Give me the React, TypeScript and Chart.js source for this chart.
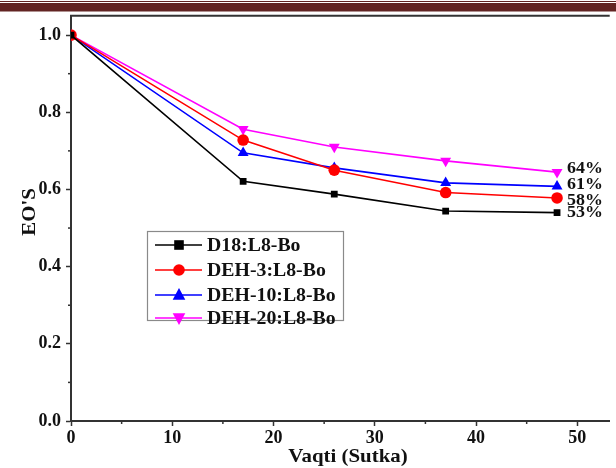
import React, { useEffect, useRef } from "react";
import { Chart, registerables } from "chart.js";

Chart.register(...registerables);

const days = [0, 17, 26, 37, 48];
const seriesNames = ["D18:L8-Bo", "DEH-3:L8-Bo", "DEH-10:L8-Bo", "DEH-20:L8-Bo"];
const d18 = [1.0, 0.621, 0.588, 0.544, 0.54];
const deh3 = [1.0, 0.728, 0.65, 0.592, 0.578];
const deh10 = [1.0, 0.695, 0.656, 0.617, 0.608];
const deh20 = [1.0, 0.756, 0.71, 0.674, 0.645];
const endLabels = ["53%", "58%", "61%", "64%"];
const xTitle = "Vaqti (Sutka)";
const yTitle = "EO'S";

const FONT = "'Liberation Serif', 'Times New Roman', serif";

function stretchText(ctx: CanvasRenderingContext2D, text: string, x: number, y: number, sx: number) {
  ctx.save();
  ctx.translate(x, y);
  ctx.scale(sx, 1);
  ctx.fillText(text, 0, 0);
  ctx.restore();
}

export default function App() {
  const ref = useRef<HTMLCanvasElement | null>(null);

  useEffect(() => {
    const canvas = ref.current;
    if (!canvas) return;

    const colors = ["#000000", "#ff0000", "#0000ff", "#ff00ff"];
    const styles = ["rect", "circle", "triangle", "triangle"];
    const rotations = [0, 0, 0, 180];
    const radii = [4.8, 5.8, 6.3, 6.3];
    const values = [d18, deh3, deh10, deh20];

    function drawMarker(ctx: CanvasRenderingContext2D, style: string, x: number, y: number, r: number, rot: number, color: string) {
      ctx.save();
      ctx.fillStyle = color;
      ctx.translate(x, y);
      ctx.rotate((rot * Math.PI) / 180);
      ctx.beginPath();
      if (style === "rect") {
        ctx.rect(-r, -r, 2 * r, 2 * r);
      } else if (style === "circle") {
        ctx.arc(0, 0, r, 0, Math.PI * 2);
      } else {
        ctx.moveTo(0, -r * 1.1);
        ctx.lineTo(r, r * 0.75);
        ctx.lineTo(-r, r * 0.75);
        ctx.closePath();
      }
      ctx.fill();
      ctx.restore();
    }

    const decor = {
      id: "decor",
      beforeDraw(chart: any) {
        const ctx = chart.ctx as CanvasRenderingContext2D;
        ctx.save();
        ctx.fillStyle = "#622423";
        ctx.fillRect(0, 1, chart.width, 1);
        ctx.fillRect(0, 3, chart.width, 8.5);
        ctx.restore();
      },
      afterDraw(chart: any) {
        const ctx = chart.ctx as CanvasRenderingContext2D;
        const area = chart.chartArea;
        const xs = chart.scales.x;
        const ys = chart.scales.y;
        ctx.save();
        // top frame
        ctx.strokeStyle = "#333333";
        ctx.lineWidth = 2;
        ctx.beginPath();
        ctx.moveTo(area.left - 1, area.top);
        ctx.lineTo(area.right, area.top);
        ctx.stroke();
        // minor ticks
        ctx.lineWidth = 1.5;
        for (let v = 5; v < xs.max; v += 10) {
          const px = xs.getPixelForValue(v);
          ctx.beginPath();
          ctx.moveTo(px, area.bottom);
          ctx.lineTo(px, area.bottom + 3);
          ctx.stroke();
        }
        for (let v = 0.1; v < 1.0; v += 0.2) {
          const py = ys.getPixelForValue(v);
          ctx.beginPath();
          ctx.moveTo(area.left, py);
          ctx.lineTo(area.left - 3, py);
          ctx.stroke();
        }
        // axis titles
        ctx.fillStyle = "#111111";
        ctx.font = `bold 19px ${FONT}`;
        ctx.textAlign = "center";
        ctx.textBaseline = "middle";
        stretchText(ctx, xTitle, 348, 457, 1.1);
        ctx.save();
        ctx.translate(30, 212);
        ctx.rotate(-Math.PI / 2);
        ctx.scale(1.1, 1);
        ctx.fillText(yTitle, 0, 0);
        ctx.restore();

        // end labels
        ctx.font = `bold 16px ${FONT}`;
        ctx.textAlign = "left";
        const offsets = [0, 3, -2, -3];
        for (let i = 0; i < 4; i++) {
          const arr = values[i];
          const py = ys.getPixelForValue(arr[arr.length - 1]) + offsets[i];
          stretchText(ctx, endLabels[i], xs.getPixelForValue(days[days.length - 1]) + 10, py, 1.12);
        }

        // legend
        const bx = 147.5, by = 231.5, bw = 196, bh = 89;
        ctx.fillStyle = "#ffffff";
        ctx.fillRect(bx, by, bw, bh);
        ctx.strokeStyle = "#8a8a8a";
        ctx.lineWidth = 1.2;
        ctx.strokeRect(bx, by, bw, bh);
        const rowY = [245, 270, 295, 318];
        ctx.font = `bold 18px ${FONT}`;
        for (let i = 0; i < 4; i++) {
          const y = rowY[i];
          ctx.strokeStyle = colors[i];
          ctx.lineWidth = 1.6;
          ctx.beginPath();
          ctx.moveTo(155, y);
          ctx.lineTo(202, y);
          ctx.stroke();
          drawMarker(ctx, styles[i], 179, y, radii[i], rotations[i], colors[i]);
          ctx.fillStyle = "#111111";
          ctx.textBaseline = "middle";
          stretchText(ctx, seriesNames[i], 207, y + 1, 1.1);
        }
        ctx.restore();
      },
    };

    const chart = new Chart(canvas, {
      type: "line",
      data: {
        datasets: values.map((arr, i) => ({
          label: seriesNames[i],
          data: days.map((d, j) => ({ x: d, y: arr[j] })),
          borderColor: colors[i],
          backgroundColor: colors[i],
          borderWidth: 1.6,
          pointStyle: styles[i] as any,
          pointRotation: rotations[i],
          pointRadius: radii[i],
          pointBorderWidth: 0,
          tension: 0,
        })),
      },
      options: {
        animation: false,
        responsive: false,
        events: [],
        layout: { padding: { top: 14, right: 0, left: 0, bottom: 0 } },
        plugins: {
          legend: { display: false },
          tooltip: { enabled: false },
        },
        scales: {
          x: {
            type: "linear",
            min: 0,
            max: 53.2,
            afterFit: (s: any) => { s.height = 47; },
            afterBuildTicks: (s: any) => {
              s.ticks = s.ticks.filter((t: any) => Math.abs(t.value % 10) < 1e-6);
            },
            ticks: {
              stepSize: 10,
              includeBounds: false,
              maxRotation: 0,
              padding: 2,
              color: "#111111",
              font: { family: FONT, size: 18, weight: "bold" },
              callback: (v: any) => String(v),
            },
            grid: { drawOnChartArea: false, drawTicks: true, tickLength: 5, tickColor: "#333333", tickWidth: 1.5 },
            border: { color: "#333333", width: 2 },
          },
          y: {
            type: "linear",
            min: 0,
            max: 1.05,
            afterFit: (s: any) => { s.width = 71; },
            afterBuildTicks: (s: any) => {
              s.ticks = s.ticks.filter((t: any) => Math.abs(Math.round(t.value * 5) - t.value * 5) < 1e-6);
            },
            ticks: {
              stepSize: 0.2,
              includeBounds: false,
              padding: 5,
              color: "#111111",
              font: { family: FONT, size: 18, weight: "bold" },
              callback: (v: any) => Number(v).toFixed(1),
            },
            grid: { drawOnChartArea: false, drawTicks: true, tickLength: 5, tickColor: "#333333", tickWidth: 1.5 },
            border: { color: "#333333", width: 2 },
          },
        },
      },
      plugins: [decor],
    } as any);

    return () => chart.destroy();
  }, []);

  return (
    <div style={{ position: "fixed", left: 0, top: 0, width: 616, height: 468, background: "#fff" }}>
      <canvas ref={ref} width={616} height={468} style={{ display: "block" }} />
    </div>
  );
}
